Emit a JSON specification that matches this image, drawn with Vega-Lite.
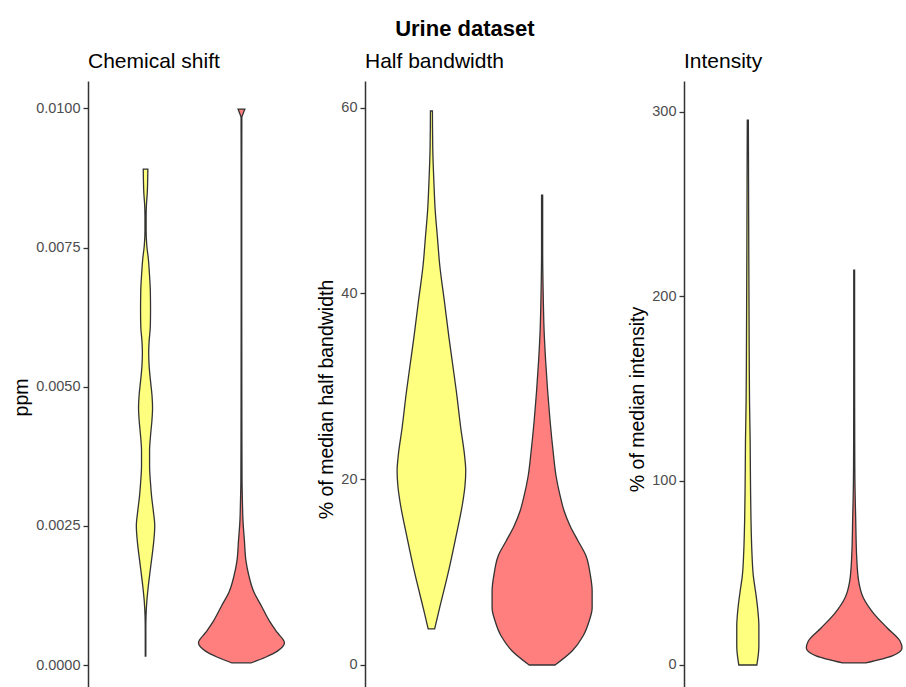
{
  "$schema": "https://vega.github.io/schema/vega-lite/v6.json",
  "padding": {"left": 11, "top": 18, "right": 0, "bottom": 0},
  "title": {"text": "Urine dataset", "fontSize": 22, "fontWeight": "bold", "font": "Liberation Sans", "anchor": "middle", "color": "#000000", "offset": 10},
  "datasets": {
    "cs": [
      {"g": "A", "y": 0.00891, "w": 0.024}, {"g": "A", "y": 0.00870, "w": 0.022}, {"g": "A", "y": 0.00848, "w": 0.018},
      {"g": "A", "y": 0.00829, "w": 0.010}, {"g": "A", "y": 0.00807, "w": 0.006}, {"g": "A", "y": 0.00780, "w": 0.006},
      {"g": "A", "y": 0.00753, "w": 0.0135}, {"g": "A", "y": 0.00730, "w": 0.029}, {"g": "A", "y": 0.00699, "w": 0.042},
      {"g": "A", "y": 0.00672, "w": 0.050}, {"g": "A", "y": 0.00636, "w": 0.052}, {"g": "A", "y": 0.00609, "w": 0.050},
      {"g": "A", "y": 0.00582, "w": 0.0375}, {"g": "A", "y": 0.00561, "w": 0.033}, {"g": "A", "y": 0.00537, "w": 0.0375},
      {"g": "A", "y": 0.00510, "w": 0.052}, {"g": "A", "y": 0.00483, "w": 0.068}, {"g": "A", "y": 0.00462, "w": 0.073},
      {"g": "A", "y": 0.00438, "w": 0.066}, {"g": "A", "y": 0.00412, "w": 0.052}, {"g": "A", "y": 0.00385, "w": 0.042},
      {"g": "A", "y": 0.00358, "w": 0.042}, {"g": "A", "y": 0.00331, "w": 0.050}, {"g": "A", "y": 0.00304, "w": 0.0625},
      {"g": "A", "y": 0.00277, "w": 0.081}, {"g": "A", "y": 0.00250, "w": 0.096}, {"g": "A", "y": 0.00223, "w": 0.086},
      {"g": "A", "y": 0.00196, "w": 0.068}, {"g": "A", "y": 0.00169, "w": 0.048}, {"g": "A", "y": 0.00142, "w": 0.029},
      {"g": "A", "y": 0.00115, "w": 0.0135}, {"g": "A", "y": 0.00088, "w": 0.005}, {"g": "A", "y": 0.00061, "w": 0.003},
      {"g": "A", "y": 0.00016, "w": 0.003},
      {"g": "B", "y": 0.00999, "w": 0.036}, {"g": "B", "y": 0.00992, "w": 0.020}, {"g": "B", "y": 0.00983, "w": 0.004},
      {"g": "B", "y": 0.00834, "w": 0.003}, {"g": "B", "y": 0.00654, "w": 0.003}, {"g": "B", "y": 0.00474, "w": 0.004},
      {"g": "B", "y": 0.00331, "w": 0.006}, {"g": "B", "y": 0.00295, "w": 0.010}, {"g": "B", "y": 0.00259, "w": 0.016},
      {"g": "B", "y": 0.00223, "w": 0.031}, {"g": "B", "y": 0.00187, "w": 0.047}, {"g": "B", "y": 0.00160, "w": 0.078},
      {"g": "B", "y": 0.00133, "w": 0.125}, {"g": "B", "y": 0.00106, "w": 0.208}, {"g": "B", "y": 0.00079, "w": 0.292},
      {"g": "B", "y": 0.00058, "w": 0.375}, {"g": "B", "y": 0.00040, "w": 0.448}, {"g": "B", "y": 0.00025, "w": 0.375},
      {"g": "B", "y": 0.00014, "w": 0.250}, {"g": "B", "y": 0.00004, "w": 0.104}
    ],
    "hb": [
      {"g": "A", "y": 59.65, "w": 0.009}, {"g": "A", "y": 55.66, "w": 0.012}, {"g": "A", "y": 52.11, "w": 0.022},
      {"g": "A", "y": 48.99, "w": 0.034}, {"g": "A", "y": 46.08, "w": 0.054}, {"g": "A", "y": 43.07, "w": 0.075},
      {"g": "A", "y": 39.19, "w": 0.117}, {"g": "A", "y": 35.31, "w": 0.158}, {"g": "A", "y": 32.19, "w": 0.194},
      {"g": "A", "y": 29.39, "w": 0.226}, {"g": "A", "y": 25.52, "w": 0.265}, {"g": "A", "y": 22.50, "w": 0.300},
      {"g": "A", "y": 20.90, "w": 0.310}, {"g": "A", "y": 19.27, "w": 0.303}, {"g": "A", "y": 17.66, "w": 0.285},
      {"g": "A", "y": 13.67, "w": 0.219}, {"g": "A", "y": 9.80, "w": 0.149}, {"g": "A", "y": 6.14, "w": 0.074},
      {"g": "A", "y": 3.88, "w": 0.029},
      {"g": "B", "y": 50.60, "w": 0.005}, {"g": "B", "y": 44.57, "w": 0.005}, {"g": "B", "y": 39.19, "w": 0.011},
      {"g": "B", "y": 35.96, "w": 0.018}, {"g": "B", "y": 32.73, "w": 0.032}, {"g": "B", "y": 29.50, "w": 0.050},
      {"g": "B", "y": 26.27, "w": 0.072}, {"g": "B", "y": 23.04, "w": 0.099}, {"g": "B", "y": 20.35, "w": 0.126},
      {"g": "B", "y": 18.20, "w": 0.163}, {"g": "B", "y": 16.58, "w": 0.199}, {"g": "B", "y": 14.97, "w": 0.253},
      {"g": "B", "y": 13.35, "w": 0.325}, {"g": "B", "y": 11.74, "w": 0.397}, {"g": "B", "y": 9.80, "w": 0.434},
      {"g": "B", "y": 7.97, "w": 0.452}, {"g": "B", "y": 6.14, "w": 0.452}, {"g": "B", "y": 4.74, "w": 0.425},
      {"g": "B", "y": 3.12, "w": 0.370}, {"g": "B", "y": 1.51, "w": 0.271}, {"g": "B", "y": 0.00, "w": 0.117}
    ],
    "it": [
      {"g": "A", "y": 295.4, "w": 0.005}, {"g": "A", "y": 262.3, "w": 0.007}, {"g": "A", "y": 224.4, "w": 0.009},
      {"g": "A", "y": 197.3, "w": 0.011}, {"g": "A", "y": 170.2, "w": 0.013}, {"g": "A", "y": 143.1, "w": 0.016},
      {"g": "A", "y": 121.4, "w": 0.022}, {"g": "A", "y": 99.7, "w": 0.025}, {"g": "A", "y": 78.0, "w": 0.030},
      {"g": "A", "y": 61.8, "w": 0.038}, {"g": "A", "y": 48.2, "w": 0.052}, {"g": "A", "y": 40.1, "w": 0.072},
      {"g": "A", "y": 30.9, "w": 0.092}, {"g": "A", "y": 21.1, "w": 0.104}, {"g": "A", "y": 10.3, "w": 0.104},
      {"g": "A", "y": 0.0, "w": 0.085},
      {"g": "B", "y": 214.1, "w": 0.004}, {"g": "B", "y": 170.2, "w": 0.004}, {"g": "B", "y": 121.4, "w": 0.005},
      {"g": "B", "y": 99.7, "w": 0.007}, {"g": "B", "y": 79.7, "w": 0.014}, {"g": "B", "y": 58.0, "w": 0.024},
      {"g": "B", "y": 45.5, "w": 0.042}, {"g": "B", "y": 36.3, "w": 0.087}, {"g": "B", "y": 27.6, "w": 0.188},
      {"g": "B", "y": 20.1, "w": 0.311}, {"g": "B", "y": 13.0, "w": 0.431}, {"g": "B", "y": 9.2, "w": 0.450},
      {"g": "B", "y": 4.9, "w": 0.358}, {"g": "B", "y": 1.1, "w": 0.110}
    ]
  },
  "spacing": 66,
  "bounds": "flush",
  "hconcat": [
    {
      "width": 211, "height": 610,
      "title": {"text": "Chemical shift", "anchor": "start", "frame": "group", "fontSize": 21, "fontWeight": "normal", "offset": 9},
      "data": {"name": "cs"},
      "transform": [
        {"calculate": "datum.g === 'A' ? 1 : 2", "as": "pos"},
        {"calculate": "datum.pos - datum.w", "as": "lo"},
        {"calculate": "datum.pos + datum.w", "as": "hi"}
      ],
      "mark": {"type": "area", "orient": "horizontal", "interpolate": "monotone", "stroke": "#333333", "strokeWidth": 1.3, "opacity": 1},
      "encoding": {
        "y": {"field": "y", "type": "quantitative", "scale": {"domain": [-0.000467, 0.010494], "nice": false, "zero": false},
              "axis": {"values": [0, 0.0025, 0.005, 0.0075, 0.01], "format": ".4f", "title": "ppm", "titleY": 316}},
        "x": {"field": "lo", "type": "quantitative", "scale": {"domain": [0.4, 2.6], "nice": false, "zero": false}, "axis": null},
        "x2": {"field": "hi"},
        "color": {"field": "g", "type": "nominal", "scale": {"domain": ["A", "B"], "range": ["#FFFF7F", "#FF7F7F"]}, "legend": null}
      }
    },
    {
      "width": 253, "height": 610,
      "title": {"text": "Half bandwidth", "anchor": "start", "frame": "group", "fontSize": 21, "fontWeight": "normal", "offset": 9},
      "data": {"name": "hb"},
      "transform": [
        {"calculate": "datum.g === 'A' ? 1 : 2", "as": "pos"},
        {"calculate": "datum.pos - datum.w", "as": "lo"},
        {"calculate": "datum.pos + datum.w", "as": "hi"}
      ],
      "mark": {"type": "area", "orient": "horizontal", "interpolate": "monotone", "stroke": "#333333", "strokeWidth": 1.3, "opacity": 1},
      "encoding": {
        "y": {"field": "y", "type": "quantitative", "scale": {"domain": [-2.80, 62.88], "nice": false, "zero": false},
              "axis": {"values": [0, 20, 40, 60], "title": "% of median half bandwidth", "titleY": 318}},
        "x": {"field": "lo", "type": "quantitative", "scale": {"domain": [0.4, 2.6855], "nice": false, "zero": false}, "axis": null},
        "x2": {"field": "hi"},
        "color": {"field": "g", "type": "nominal", "scale": {"domain": ["A", "B"], "range": ["#FFFF7F", "#FF7F7F"]}, "legend": null}
      }
    },
    {
      "width": 234, "height": 610,
      "title": {"text": "Intensity", "anchor": "start", "frame": "group", "fontSize": 21, "fontWeight": "normal", "offset": 9},
      "data": {"name": "it"},
      "transform": [
        {"calculate": "datum.g === 'A' ? 1 : 2", "as": "pos"},
        {"calculate": "datum.pos - datum.w", "as": "lo"},
        {"calculate": "datum.pos + datum.w", "as": "hi"}
      ],
      "mark": {"type": "area", "orient": "horizontal", "interpolate": "monotone", "stroke": "#333333", "strokeWidth": 1.3, "opacity": 1},
      "encoding": {
        "y": {"field": "y", "type": "quantitative", "scale": {"domain": [-14.10, 316.65], "nice": false, "zero": false},
              "axis": {"values": [0, 100, 200, 300], "title": "% of median intensity", "titleY": 318}},
        "x": {"field": "lo", "type": "quantitative", "scale": {"domain": [0.4, 2.6], "nice": false, "zero": false}, "axis": null},
        "x2": {"field": "hi"},
        "color": {"field": "g", "type": "nominal", "scale": {"domain": ["A", "B"], "range": ["#FFFF7F", "#FF7F7F"]}, "legend": null}
      }
    }
  ],
  "config": {
    "view": {"stroke": null},
    "title": {"font": "Liberation Sans", "color": "#000000"},
    "axis": {
      "grid": false, "domainColor": "#333333", "domainWidth": 1.5,
      "tickColor": "#333333", "tickWidth": 1.3, "tickSize": 5,
      "labelFont": "Liberation Sans", "labelFontSize": 14.5, "labelColor": "#4D4D4D", "labelPadding": 3,
      "titleFont": "Liberation Sans", "titleFontSize": 19.5, "titleFontWeight": "normal", "titleColor": "#000000"
    }
  }
}
